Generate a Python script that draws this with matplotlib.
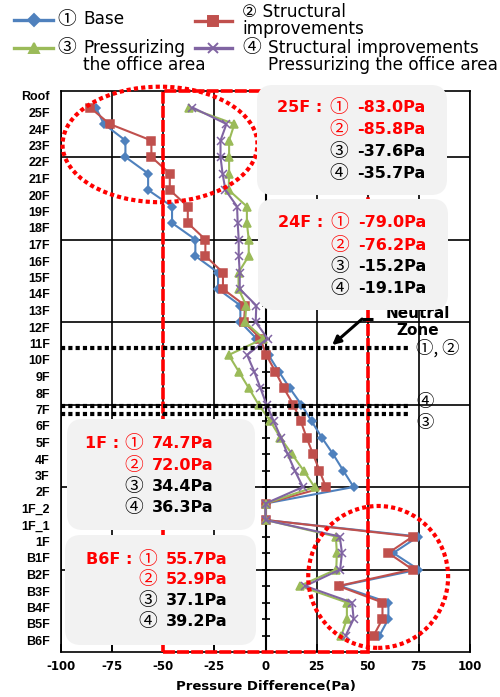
import numpy as np
import matplotlib
matplotlib.use("Agg")
import matplotlib.pyplot as plt
from matplotlib.patches import FancyBboxPatch, Ellipse, Rectangle
from matplotlib.lines import Line2D
import matplotlib.transforms as mtransforms

plt.rcParams["axes.unicode_minus"] = False

nan = np.nan

# Floors from the roof down to the sixth basement level
floors = ["Roof", "25F", "24F", "23F", "22F", "21F", "20F", "19F", "18F", "17F",
          "16F", "15F", "14F", "13F", "12F", "11F", "10F", "9F", "8F", "7F",
          "6F", "5F", "4F", "3F", "2F", "1F_2", "1F_1", "1F",
          "B1F", "B2F", "B3F", "B4F", "B5F", "B6F"]

# Pressure difference (Pa) per floor for each case
base = [nan, -83.0, -79.0, -68.5, -68.5, -57.4, -57.4, -45.7, -45.7, -34.3,
        -34.3, -23.2, -23.2, -12.3, -12.3, -4.5, 1.5, 6.5, 11.8, 17.5,
        22.5, 27.5, 33.0, 38.0, 43.1, 0.0, 0.0, 74.7,
        62.5, 74.8, 36.5, 60.1, 60.1, 55.7]
structural = [nan, -85.8, -76.2, -55.8, -55.8, -46.8, -46.8, -38.0, -38.0, -29.4,
              -29.4, -20.8, -20.8, -10.0, -10.5, -2.5, 0.4, 4.8, 8.9, 13.6,
              17.2, 20.1, 23.2, 26.4, 29.5, 0.0, 0.0, 72.0,
              60.1, 71.9, 35.7, 57.2, 57.2, 52.9]
pressurized = [nan, -37.6, -15.2, -17.8, -17.8, -17.8, -18.0, -9.1, -9.1, -8.2,
               -8.2, -13.2, -13.2, -9.4, -10.0, -1.0, -18.0, -13.1, -8.2, -3.4,
               2.3, 7.2, 12.9, 18.6, 24.0, 0.0, 0.0, 34.4,
               34.9, 34.6, 16.7, 39.8, 39.8, 37.1]
combined = [nan, -35.7, -19.1, -22.0, -22.0, -21.0, -19.6, -13.9, -13.6, -13.1,
            -13.1, -12.6, -12.6, -4.5, -4.8, 1.0, -9.0, -5.5, -2.5, 0.5,
            4.0, 7.5, 10.8, 14.3, 18.3, 0.0, 0.0, 36.3,
            37.4, 36.5, 19.4, 42.3, 43.1, 39.2]

circled = ["①", "②", "③", "④"]
x_ticks = [-100, -75, -50, -25, 0, 25, 50, 75, 100]

series = [base, structural, pressurized, combined]
colors = ["#4F81BD", "#C0504D", "#9BBB59", "#8064A2"]
markers = ["D", "s", "^", "x"]
msizes = [4.5, 5.5, 6.0, 5.5]

CJK = ["Noto Sans CJK KR"]
MIX = ["DejaVu Sans", "Noto Sans CJK KR"]

W, H = 500, 697
fig = plt.figure(figsize=(W / 100, H / 100), dpi=100)
ax = fig.add_axes([61 / W, 1 - 652 / H, 409 / W, 561 / H])

ypos = np.arange(len(floors))[::-1] + 1

lines = []
for vals, c, m, ms in zip(series, colors, markers, msizes):
    ln, = ax.plot(vals, ypos, color=c, lw=1.5, marker=m, ms=ms, mfc=c, mec=c,
                  mew=1.1, zorder=3)
    lines.append(ln)

ax.set_xlim(-100, 100)
ax.set_ylim(0, len(floors))
ax.set_xticks(x_ticks, [str(v) for v in x_ticks])
ax.grid(axis="x", color="black", lw=1.2)
ax.hlines(np.arange(5, len(floors), 5), -100, 100, color="black", lw=1.2, zorder=1)
ax.set_axisbelow(True)
for sp in ax.spines.values():
    sp.set_color("black")
    sp.set_linewidth(1.2)

ax.tick_params(axis="x", direction="in", length=6, width=1.2, pad=6)
for lab in ax.get_xticklabels():
    lab.set_fontfamily("DejaVu Sans")
    lab.set_fontweight("bold")
    lab.set_fontsize(8.5)
ax.set_xlabel("Pressure Difference(Pa)", fontsize=9.5, fontweight="bold",
              family="DejaVu Sans", labelpad=5)

ax.set_yticks(ypos, floors)
ax.tick_params(axis="y", length=0, pad=8)
shift = mtransforms.ScaledTranslation(0, -5 / 100, fig.dpi_scale_trans)
for lab in ax.get_yticklabels():
    lab.set_fontfamily("Liberation Sans")
    lab.set_fontweight("bold")
    lab.set_fontsize(9)
    lab.set_transform(lab.get_transform() + shift)

# vertical axis crossing at zero with a tick at every floor
sec = ax.secondary_yaxis(0.5)
sec.set_yticks(ypos, [""] * len(ypos))
sec.tick_params(axis="y", direction="inout", length=6, width=1.2)
for sp in sec.spines.values():
    sp.set_linewidth(1.5)

# highlighted regions
ax.add_patch(Rectangle((-50, 0), 100, len(floors), fill=False, ec="#FF0000",
                       lw=2.6, ls=(0, (3.3, 0.6)), clip_on=False, zorder=5))
ax.add_patch(Ellipse((-51.6, 30.76), 95.3, 7.0, fill=False, ec="#FF0000",
                     lw=3, ls=(0, (1, 0.75)), clip_on=False, zorder=5))
ax.add_patch(Ellipse((55.1, 4.55), 68.4, 8.6, fill=False, ec="#FF0000",
                     lw=3, ls=(0, (1, 0.75)), clip_on=False, zorder=5))

# neutral zones
nz_levels = [18.4, 14.9, 14.4]
nz_labels = ["①, ②", "④", "③"]
nz_label_y = [18.4, 15.15, 13.9]
ax.hlines(nz_levels, -100, 70.7, colors="black", lw=3,
          linestyles=[(0, (1, 0.75))], zorder=6, clip_on=False)
for ly, t in zip(nz_label_y, nz_labels):
    ax.text(73.6, ly, t, ha="left", va="center", fontsize=12.5, family=CJK,
            zorder=6, clip_on=False)
ax.text(74.4, 20.0, "Neutral\nZone", ha="center", va="center", fontsize=11,
        fontweight="bold", family="DejaVu Sans", linespacing=1.1, zorder=6)
ax.plot([52.6, 47.2], [20.18, 20.18], color="black", lw=2.2, zorder=6,
        solid_capstyle="butt")
ax.annotate("", xy=(32.6, 18.6), xytext=(47.2, 20.18),
            arrowprops=dict(arrowstyle="-|>", lw=2.2, color="black",
                            mutation_scale=12, shrinkA=0, shrinkB=0),
            zorder=6, annotation_clip=False)

# ---- helpers in pixel space ----
T = fig.dpi_scale_trans


def px(x, y):
    return x / 100, (H - y) / 100


def ftext(x, y, s, **kw):
    kw.setdefault("va", "center")
    kw.setdefault("ha", "left")
    return fig.text(*px(x, y), s, transform=T, **kw)


# legend handles
handle_pos = [(14, 53, 19.5), (195, 232, 20.5), (14, 53, 48), (195, 232, 48)]
for i, (x0, x1, ly) in enumerate(handle_pos):
    xs = [x0 / 100, (x0 + x1) / 200, x1 / 100]
    yy = (H - ly) / 100
    fig.add_artist(Line2D(xs, [yy] * 3, transform=T, color=colors[i], lw=2.4,
                          marker=markers[i], ms=msizes[i] + 1.5, mfc=colors[i],
                          mec=colors[i], mew=1.4, markevery=[1]))

# legend labels
LEG_FS = 12.2
ftext(57, 19, circled[0], fontsize=13.5, family=CJK)
ftext(83, 19, "Base", fontsize=LEG_FS, family="DejaVu Sans")
ftext(242, 20.5, f"{circled[1]} Structural\nimprovements", fontsize=LEG_FS,
      family=MIX, linespacing=0.92)
ftext(57, 48, circled[2], fontsize=13.5, family=CJK)
ftext(83, 56.5, "Pressurizing\nthe office area", fontsize=LEG_FS,
      family="DejaVu Sans", linespacing=0.92)
ftext(242, 48, circled[3], fontsize=13.5, family=CJK)
ftext(268, 56.5, "Structural improvements\nPressurizing the office area",
      fontsize=LEG_FS, family="DejaVu Sans", linespacing=0.92)

# annotation boxes
RED = "#FF0000"


def value_box(x0, y0, x1, y1, floor, lab_x, circ_x, val_x, line_y):
    fig.add_artist(FancyBboxPatch((x0 / 100, (H - y1) / 100), (x1 - x0) / 100,
                                  (y1 - y0) / 100,
                                  boxstyle="round,pad=0,rounding_size=0.16",
                                  fc="#F2F2F2", ec="none", transform=T, zorder=3))
    idx = floors.index(floor)
    ftext(lab_x, line_y[0], f"{floor} :", fontsize=11.5, fontweight="bold",
          family="DejaVu Sans", color=RED, zorder=4)
    for k, vals in enumerate(series):
        col = RED if k < 2 else "black"
        ftext(circ_x, line_y[k], circled[k], fontsize=13.5, family=CJK,
              color=col, zorder=4)
        ftext(val_x, line_y[k], f"{vals[idx]:.1f}Pa", fontsize=11.5,
              fontweight="bold", family="DejaVu Sans", color=col, zorder=4)


value_box(257, 85, 447, 195, "25F", 277, 329, 357, [108, 129.7, 151.5, 173])
value_box(258, 199, 448, 310, "24F", 278, 330, 358, [222.7, 245, 266.7, 288.3])
value_box(67, 419, 255, 530, "1F", 85, 124, 152, [443.3, 465, 486.7, 508])
value_box(65, 535, 256, 645, "B6F", 86, 138, 166, [559, 579.5, 600.5, 622])

fig.savefig("out.png", dpi=100)
